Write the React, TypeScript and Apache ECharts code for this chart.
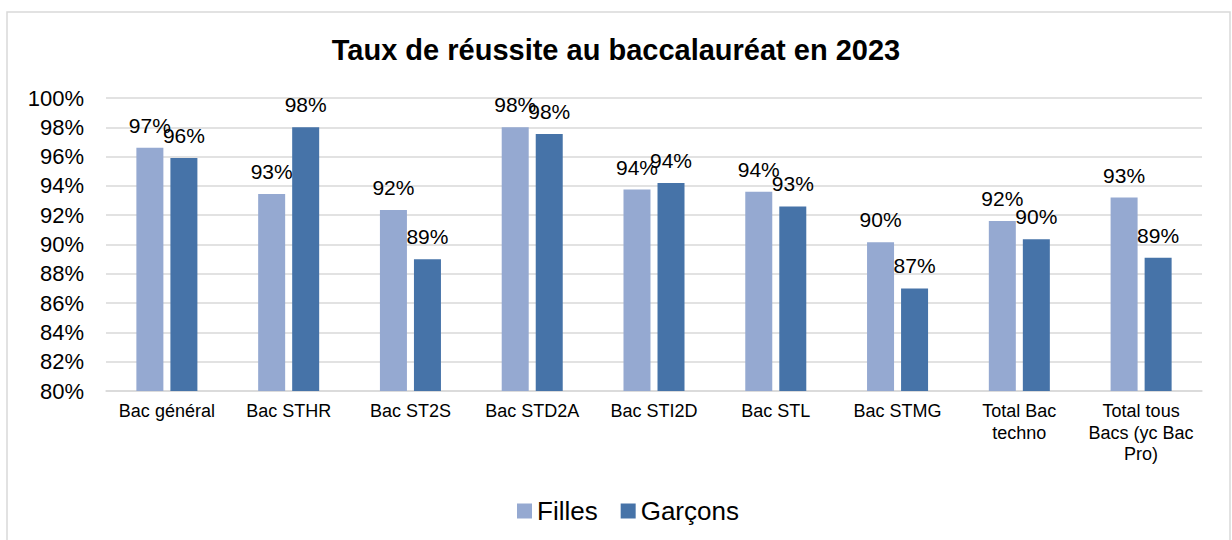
import React, { useEffect, useRef } from "react";
import * as echarts from "echarts";

const categories = [
  "Bac général",
  "Bac STHR",
  "Bac ST2S",
  "Bac STD2A",
  "Bac STI2D",
  "Bac STL",
  "Bac STMG",
  "Total Bac\ntechno",
  "Total tous\nBacs (yc Bac\nPro)",
];
const filles = [96.6, 93.45, 92.35, 98.0, 93.75, 93.6, 90.15, 91.6, 93.2];
const garcons = [95.9, 98.0, 89.0, 97.55, 94.2, 92.6, 87.0, 90.35, 89.1];
const seriesNames = ["Filles", "Garçons"];
const title = "Taux de réussite au baccalauréat en 2023";

const FONT = "'Liberation Sans', Arial, sans-serif";

export default function App() {
  const ref = useRef<HTMLDivElement>(null);
  useEffect(() => {
    document.body.style.margin = "0";
    const chart = echarts.init(ref.current!, null, { renderer: "svg" });
    const label = {
      show: true,
      position: "top" as const,
      distance: 12,
      fontSize: 21,
      color: "#000",
      fontFamily: FONT,
      formatter: (p: any) => `${Math.round(p.value)}%`,
    };
    chart.setOption({
      animation: false,
      textStyle: { fontFamily: FONT },
      title: {
        text: title,
        left: "center",
        top: 30,
        textStyle: { fontSize: 29, fontWeight: "bold", color: "#000", fontFamily: FONT },
      },
      graphic: [
        {
          type: "rect",
          shape: { x: 7, y: 12, width: 1223, height: 540 },
          style: { fill: "none", stroke: "#D9D9D9", lineWidth: 1.5 },
          silent: true,
        },
      ],
      legend: {
        left: 512,
        top: 493,
        itemWidth: 15,
        itemHeight: 15,
        itemGap: 23,
        icon: "rect",
        textStyle: { fontSize: 26, color: "#000", fontFamily: FONT, padding: [0, 0, 0, 0] },
        data: seriesNames,
      },
      grid: { left: 106, right: 30, top: 98, bottom: 149, containLabel: false },
      xAxis: {
        type: "category",
        data: categories,
        axisLine: { lineStyle: { color: "#D9D9D9", width: 1.5 } },
        axisTick: { show: false },
        axisLabel: {
          fontSize: 18,
          lineHeight: 21.7,
          color: "#000",
          margin: 9,
          interval: 0,
          fontFamily: FONT,
        },
      },
      yAxis: {
        type: "value",
        min: 80,
        max: 100,
        interval: 2,
        axisLine: { show: false },
        axisTick: { show: false },
        splitLine: { lineStyle: { color: "#D9D9D9", width: 1.5 } },
        axisLabel: {
          fontSize: 22,
          color: "#000",
          margin: 22,
          fontFamily: FONT,
          formatter: (v: number) => `${v}%`,
        },
      },
      series: [
        {
          name: seriesNames[0],
          type: "bar",
          data: filles,
          barWidth: 27,
          barGap: "26%",
          itemStyle: { color: "#95A9D1" },
          label,
        },
        {
          name: seriesNames[1],
          type: "bar",
          data: garcons,
          barWidth: 27,
          itemStyle: { color: "#4673A8" },
          label,
        },
      ],
    });
    return () => chart.dispose();
  }, []);
  return <div ref={ref} style={{ width: 1232, height: 540 }} />;
}
